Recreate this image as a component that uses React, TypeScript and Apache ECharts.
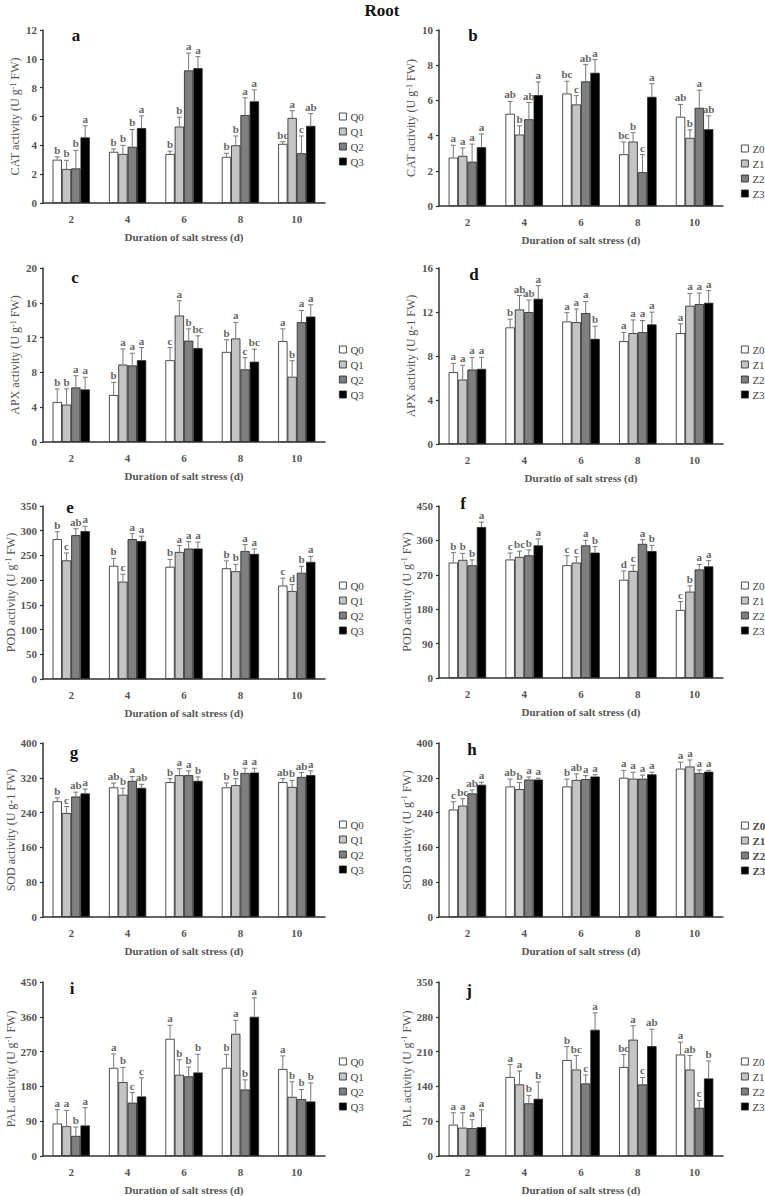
import React, { useEffect, useRef } from 'react';
import * as echarts from 'echarts';

const FONT = "'Liberation Serif', 'Times New Roman', serif";
const CATEGORIES = ['2', '4', '6', '8', '10'];
const Q_GROUPS = ['Q0', 'Q1', 'Q2', 'Q3'];
const Z_GROUPS = ['Z0', 'Z1', 'Z2', 'Z3'];
const FILLS = ['#ffffff', '#c4c4c4', '#7f7f7f', '#000000'];

// a: CAT, Q
const CAT_Q_MEAN = [[3.0, 3.55, 3.4, 3.2, 4.1], [2.36, 3.4, 5.3, 4.0, 5.9], [2.4, 3.9, 9.2, 6.1, 3.45], [4.55, 5.2, 9.35, 7.05, 5.35]];
const CAT_Q_ERR = [[0.2, 0.2, 0.2, 0.25, 0.15], [0.6, 0.6, 0.65, 0.65, 0.5], [1.25, 1.2, 1.2, 1.2, 1.2], [0.8, 0.85, 0.8, 0.8, 0.85]];
const CAT_Q_LET = [['b', 'b', 'b', 'b', 'bc'], ['b', 'b', 'b', 'b', 'a'], ['b', 'b', 'a', 'a', 'c'], ['a', 'a', 'a', 'a', 'ab']];
// b: CAT, Z
const CAT_Z_MEAN = [[2.75, 5.24, 6.39, 2.94, 5.07], [2.85, 4.06, 5.77, 3.66, 3.87], [2.52, 4.93, 7.08, 1.92, 5.58], [3.34, 6.3, 7.57, 6.2, 4.36]];
const CAT_Z_ERR = [[0.7, 0.7, 0.7, 0.7, 0.7], [0.45, 0.5, 0.5, 0.5, 0.46], [1.0, 0.95, 0.95, 1.0, 1.0], [0.75, 0.75, 0.75, 0.75, 0.76]];
const CAT_Z_LET = [['a', 'ab', 'bc', 'bc', 'ab'], ['a', 'b', 'c', 'b', 'b'], ['a', 'ab', 'ab', 'c', 'a'], ['a', 'a', 'a', 'a', 'ab']];
// c: APX, Q
const APX_Q_MEAN = [[4.6, 5.4, 9.4, 10.35, 11.6], [4.3, 8.9, 14.54, 11.9, 7.5], [6.27, 8.8, 11.65, 8.35, 13.77], [6.04, 9.4, 10.8, 9.23, 14.42]];
const APX_Q_ERR = [[1.5, 1.45, 1.45, 1.4, 1.4], [1.8, 1.8, 1.7, 1.85, 1.85], [1.35, 1.4, 1.35, 1.35, 1.35], [1.4, 1.45, 1.4, 1.45, 1.35]];
const APX_Q_LET = [['b', 'b', 'c', 'b', 'a'], ['b', 'a', 'a', 'a', 'b'], ['a', 'a', 'b', 'c', 'a'], ['a', 'a', 'bc', 'bc', 'a']];
// d: APX, Z
const APX_Z_MEAN = [[6.53, 10.6, 11.14, 9.35, 10.08], [5.86, 12.23, 11.08, 10.08, 12.57], [6.77, 11.99, 11.9, 10.17, 12.72], [6.83, 13.2, 9.56, 10.87, 12.84]];
const APX_Z_ERR = [[0.8, 0.75, 0.8, 0.8, 0.85], [1.3, 1.27, 1.2, 1.2, 1.12], [1.1, 1.1, 1.06, 1.06, 1.0], [1.05, 1.2, 1.15, 1.12, 1.1]];
const APX_Z_LET = [['a', 'b', 'a', 'a', 'a'], ['a', 'ab', 'a', 'a', 'a'], ['a', 'ab', 'a', 'a', 'a'], ['a', 'a', 'b', 'a', 'a']];
// e: POD, Q
const POD_Q_MEAN = [[283, 229, 227, 224, 189], [240, 197, 257, 218, 178], [291, 283, 264, 259, 215], [299, 279, 264, 253, 237]];
const POD_Q_ERR = [[15, 15, 15, 15, 15], [15, 15, 13, 14, 13], [13, 11, 14, 13, 13], [10, 10, 13, 10, 11]];
const POD_Q_LET = [['b', 'b', 'b', 'b', 'c'], ['c', 'c', 'a', 'b', 'd'], ['ab', 'a', 'a', 'a', 'b'], ['a', 'a', 'a', 'a', 'a']];
// f: POD, Z
const POD_Z_MEAN = [[302, 310, 295, 257, 178], [309, 317, 302, 280, 226], [295, 321, 347, 351, 284], [395, 347, 328, 332, 292]];
const POD_Z_ERR = [[26, 17, 25, 23, 22], [17, 15, 15, 15, 15], [14, 14, 13, 11, 13], [13, 17, 16, 15, 15]];
const POD_Z_LET = [['b', 'c', 'c', 'd', 'c'], ['b', 'bc', 'c', 'c', 'b'], ['b', 'b', 'a', 'a', 'a'], ['a', 'a', 'b', 'b', 'a']];
// g: SOD, Q
const SOD_Q_MEAN = [[266, 298, 310, 298, 310], [239, 281, 326, 303, 299], [277, 313, 326, 331, 322], [284, 297, 313, 332, 326]];
const SOD_Q_ERR = [[8, 10, 8, 10, 8], [15, 15, 15, 15, 15], [10, 10, 10, 11, 10], [10, 8, 9, 10, 10]];
const SOD_Q_LET = [['b', 'ab', 'b', 'b', 'ab'], ['c', 'b', 'a', 'b', 'b'], ['ab', 'a', 'a', 'a', 'ab'], ['a', 'ab', 'b', 'a', 'a']];
// h: SOD, Z
const SOD_Z_MEAN = [[247, 300, 300, 320, 341], [256, 294, 315, 318, 346], [284, 316, 317, 318, 331], [304, 316, 323, 328, 334]];
const SOD_Z_ERR = [[18, 17, 17, 17, 15], [16, 15, 14, 15, 15], [8, 6, 8, 8, 7], [6, 3, 4, 5, 3]];
const SOD_Z_LET = [['c', 'ab', 'b', 'a', 'a'], ['bc', 'b', 'ab', 'a', 'a'], ['ab', 'a', 'a', 'a', 'a'], ['a', 'a', 'a', 'a', 'a']];
// i: PAL, Q
const PAL_Q_MEAN = [[84, 228, 303, 228, 225], [77, 191, 210, 316, 153], [52, 138, 206, 172, 147], [79, 154, 216, 360, 141]];
const PAL_Q_ERR = [[36, 36, 35, 35, 34], [41, 38, 39, 35, 39], [23, 26, 24, 25, 25], [46, 48, 47, 49, 48]];
const PAL_Q_LET = [['a', 'a', 'a', 'b', 'a'], ['a', 'b', 'b', 'a', 'b'], ['b', 'c', 'b', 'b', 'b'], ['a', 'c', 'b', 'a', 'b']];
// j: PAL, Z
const PAL_Z_MEAN = [[63, 159, 193, 179, 204], [57, 144, 174, 234, 174], [56, 106, 146, 144, 97], [58, 115, 254, 221, 156]];
const PAL_Z_ERR = [[24, 25, 27, 25, 25], [30, 27, 28, 28, 28], [17, 16, 17, 14, 15], [35, 34, 34, 34, 35]];
const PAL_Z_LET = [['a', 'a', 'b', 'bc', 'a'], ['a', 'a', 'bc', 'a', 'ab'], ['a', 'b', 'c', 'c', 'c'], ['a', 'b', 'a', 'ab', 'b']];

const X_NAME = 'Duration of salt stress (d)';

const PANELS = [
  { id: 'a', left: 43, top: 30, width: 282, height: 173, max: 12, interval: 2, yName: 'CAT activity (U g{sup|-1} FW)', xName: X_NAME, groups: Q_GROUPS, lgLeft: 339, lgTop: 111, lx: 76, ly: 35, boldLg: false, mean: CAT_Q_MEAN, err: CAT_Q_ERR, let: CAT_Q_LET },
  { id: 'b', left: 439, top: 30, width: 284, height: 176, max: 10, interval: 2, yName: 'CAT activity (U g{sup|-1} FW)', xName: X_NAME, groups: Z_GROUPS, lgLeft: 741, lgTop: 143, lx: 473, ly: 35, boldLg: false, mean: CAT_Z_MEAN, err: CAT_Z_ERR, let: CAT_Z_LET },
  { id: 'c', left: 43, top: 268, width: 282, height: 174, max: 20, interval: 4, yName: 'APX activity (U g{sup|-1} FW)', xName: X_NAME, groups: Q_GROUPS, lgLeft: 339, lgTop: 344, lx: 75, ly: 277, boldLg: false, mean: APX_Q_MEAN, err: APX_Q_ERR, let: APX_Q_LET },
  { id: 'd', left: 439, top: 268, width: 284, height: 176, max: 16, interval: 4, yName: 'APX activity (U g-1 FW)', xName: 'Duratio of salt stress (d)', groups: Z_GROUPS, lgLeft: 741, lgTop: 344, lx: 474, ly: 274, boldLg: false, mean: APX_Z_MEAN, err: APX_Z_ERR, let: APX_Z_LET },
  { id: 'e', left: 43, top: 506, width: 282, height: 173, max: 350, interval: 50, yName: 'POD activity (U g{sup|-1} FW)', xName: X_NAME, groups: Q_GROUPS, lgLeft: 339, lgTop: 580, lx: 70, ly: 507, boldLg: false, mean: POD_Q_MEAN, err: POD_Q_ERR, let: POD_Q_LET },
  { id: 'f', left: 439, top: 506, width: 284, height: 172, max: 450, interval: 90, yName: 'POD activity (U g{sup|-1} FW)', xName: X_NAME, groups: Z_GROUPS, lgLeft: 741, lgTop: 580, lx: 463, ly: 503, boldLg: false, mean: POD_Z_MEAN, err: POD_Z_ERR, let: POD_Z_LET },
  { id: 'g', left: 43, top: 743, width: 282, height: 174, max: 400, interval: 80, yName: 'SOD activity (U g-1 FW)', xName: X_NAME, groups: Q_GROUPS, lgLeft: 339, lgTop: 819, lx: 74, ly: 752, boldLg: false, mean: SOD_Q_MEAN, err: SOD_Q_ERR, let: SOD_Q_LET },
  { id: 'h', left: 439, top: 743, width: 284, height: 174, max: 400, interval: 80, yName: 'SOD activity (U g{sup|-1} FW)', xName: X_NAME, groups: Z_GROUPS, lgLeft: 741, lgTop: 820, lx: 472, ly: 749, boldLg: true, mean: SOD_Z_MEAN, err: SOD_Z_ERR, let: SOD_Z_LET },
  { id: 'i', left: 43, top: 982, width: 282, height: 174, max: 450, interval: 90, yName: 'PAL activity (U g{sup|-1} FW)', xName: X_NAME, groups: Q_GROUPS, lgLeft: 339, lgTop: 1056, lx: 72, ly: 988, boldLg: false, mean: PAL_Q_MEAN, err: PAL_Q_ERR, let: PAL_Q_LET },
  { id: 'j', left: 439, top: 982, width: 284, height: 174, max: 350, interval: 70, yName: 'PAL activity (U g{sup|-1} FW)', xName: X_NAME, groups: Z_GROUPS, lgLeft: 741, lgTop: 1056, lx: 469, ly: 990, boldLg: false, mean: PAL_Z_MEAN, err: PAL_Z_ERR, let: PAL_Z_LET },
];

const GAP = 0.34;

function buildOption() {
  const grid: any[] = [];
  const xAxis: any[] = [];
  const yAxis: any[] = [];
  const series: any[] = [];
  const legend: any[] = [];
  const graphic: any[] = [
    { type: 'text', x: 382, y: 10, style: { text: 'Root', fontFamily: FONT, fontSize: 17, fontWeight: 'bold', fill: '#111', align: 'center', verticalAlign: 'middle' } },
  ];

  PANELS.forEach((p, pi) => {
    grid.push({ left: p.left, top: p.top, width: p.width, height: p.height, containLabel: false });
    xAxis.push({
      type: 'category', gridIndex: pi, data: CATEGORIES,
      axisLine: { lineStyle: { color: '#333', width: 1.5 } },
      axisTick: { length: 5, lineStyle: { color: '#333', width: 1.2 } },
      axisLabel: { fontFamily: FONT, fontSize: 11, fontWeight: 'bold', color: '#555', margin: 10 },
      name: p.xName, nameLocation: 'middle', nameGap: 28,
      nameTextStyle: { fontFamily: FONT, fontSize: 11, fontWeight: 'bold', color: '#555' },
    });
    yAxis.push({
      type: 'value', gridIndex: pi, min: 0, max: p.max, interval: p.interval,
      axisLine: { show: true, lineStyle: { color: '#333', width: 1.5 } },
      axisTick: { show: true, length: 3, lineStyle: { color: '#333', width: 1.2 } },
      splitLine: { show: false },
      axisLabel: { fontFamily: FONT, fontSize: 11, fontWeight: 'bold', color: '#555', margin: 6 },
      name: p.yName, nameLocation: 'middle', nameGap: 22,
      nameTextStyle: {
        fontFamily: FONT, fontSize: 12, color: '#555',
        rich: { sup: { fontFamily: FONT, fontSize: 8, color: '#555', verticalAlign: 'top' } },
      },
    });
    p.groups.forEach((g, k) => {
      series.push({
        type: 'bar', name: g, xAxisIndex: pi, yAxisIndex: pi, data: p.mean[k],
        barGap: '0%', barCategoryGap: GAP * 100 + '%',
        itemStyle: { color: FILLS[k], borderColor: '#222', borderWidth: 0.8 },
        emphasis: { disabled: true },
      });
    });
    const errData: any[] = [];
    p.groups.forEach((g, k) => {
      CATEGORIES.forEach((c, ci) => {
        errData.push([ci, k, p.mean[k][ci], p.err[k][ci]]);
      });
    });
    series.push({
      type: 'custom', xAxisIndex: pi, yAxisIndex: pi, z: 10, clip: false,
      encode: { x: 0, y: 2 },
      data: errData,
      renderItem: (params: any, api: any) => {
        const ci = api.value(0);
        const k = api.value(1);
        const v = api.value(2);
        const e = api.value(3);
        const letter = p.let[k][ci];
        const base = api.coord([ci, 0]);
        const catW = api.size([1, 0])[0];
        const barW = (catW * (1 - GAP)) / 4;
        const x = base[0] - (catW * (1 - GAP)) / 2 + barW * (k + 0.5);
        const top = api.coord([ci, v])[1];
        const et = api.coord([ci, v + e])[1];
        return {
          type: 'group',
          children: [
            { type: 'line', shape: { x1: x, y1: top, x2: x, y2: et }, style: { stroke: '#777', lineWidth: 1 } },
            { type: 'line', shape: { x1: x - 2.5, y1: et, x2: x + 2.5, y2: et }, style: { stroke: '#777', lineWidth: 1 } },
            { type: 'text', x: x, y: et - 1.5, style: { text: letter, fontFamily: FONT, fontSize: 11, fontWeight: 'bold', fill: '#666', align: 'center', verticalAlign: 'bottom' } },
          ],
        };
      },
    });
    legend.push({
      left: p.lgLeft, top: p.lgTop, orient: 'vertical', padding: 0, itemGap: 4,
      itemWidth: 7, itemHeight: 7, icon: 'rect', selectedMode: false,
      data: p.groups,
      itemStyle: { borderColor: '#222', borderWidth: 0.8 },
      textStyle: { fontFamily: FONT, fontSize: 11, color: '#444', fontWeight: p.boldLg ? 'bold' : 'normal', padding: [0, 0, 0, -1] },
    });
    graphic.push({ type: 'text', x: p.lx, y: p.ly, style: { text: p.id, fontFamily: FONT, fontSize: 17, fontWeight: 'bold', fill: '#111', align: 'center', verticalAlign: 'middle' } });
  });

  return {
    animation: false,
    backgroundColor: '#ffffff',
    grid, xAxis, yAxis, series, legend, graphic,
  };
}

export default function App() {
  const ref = useRef<HTMLDivElement>(null);
  useEffect(() => {
    if (!ref.current) return;
    const chart = echarts.init(ref.current, undefined, { renderer: 'svg' });
    chart.setOption(buildOption() as any);
    return () => chart.dispose();
  }, []);
  return (
    <div style={{ position: 'absolute', left: 0, top: 0 }}>
      <div ref={ref} style={{ width: 765, height: 1196 }} />
    </div>
  );
}
